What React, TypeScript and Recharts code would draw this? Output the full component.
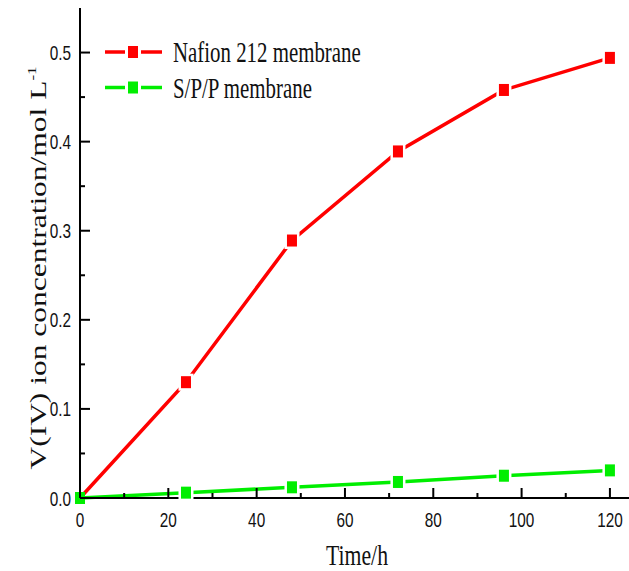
import React from 'react';
import { LineChart, Line, XAxis, YAxis, Legend } from 'recharts';

// values
const hours = [0, 24, 48, 72, 96, 120];
const nafion = [0, 0.13, 0.289, 0.389, 0.458, 0.494];
const spp = [0, 0.006, 0.012, 0.018, 0.025, 0.031];

const xTicks = [0, 10, 20, 30, 40, 50, 60, 70, 80, 90, 100, 110, 120];
const yTicks = [0, 0.05, 0.1, 0.15, 0.2, 0.25, 0.3, 0.35, 0.4, 0.45, 0.5];

const SERIES = [
  { key: 'nafion', name: 'Nafion 212 membrane', color: '#ff0000' },
  { key: 'spp', name: 'S/P/P membrane', color: '#00ee00' },
];

const data = hours.map((t, i) => ({ time: t, nafion: nafion[i], spp: spp[i] }));

// the source figure is squeezed horizontally, so text is narrowed to match
const SQ = 0.73;
const SANS = '"Liberation Sans", Arial, sans-serif';
const SERIF = '"Liberation Serif", "Times New Roman", serif';

const XTick = (props: any) => {
  const { x, y, payload } = props;
  const major = payload.value % 20 === 0;
  return (
    <g>
      <line x1={x} x2={x} y1={y} y2={y - (major ? 10 : 5)} stroke="#000" strokeWidth={2} />
      {major && (
        <text
          transform={`translate(${x},${y + 29}) scale(${SQ},1)`}
          textAnchor="middle"
          fontFamily={SANS}
          fontSize={21}
          fill="#111"
        >
          {payload.value}
        </text>
      )}
    </g>
  );
};

const YTick = (props: any) => {
  const { x, y, payload } = props;
  const major = Math.round(payload.value * 100) % 10 === 0;
  return (
    <g>
      <line x1={x} x2={x + (major ? 10 : 5)} y1={y} y2={y} stroke="#000" strokeWidth={2} />
      {major && (
        <text
          transform={`translate(${x - 9},${y + 7.5}) scale(${SQ},1)`}
          textAnchor="end"
          fontFamily={SANS}
          fontSize={21}
          fill="#111"
        >
          {payload.value.toFixed(1)}
        </text>
      )}
    </g>
  );
};

// square marker with a small white gap around it, like the Origin plot
const SquareDot = (color: string) => (props: any) => {
  const { cx, cy, index } = props;
  if (cx == null || cy == null) return null;
  return (
    <g key={index}>
      {index > 0 && <rect x={cx - 7.5} y={cy - 8.5} width={15} height={17} fill="#fff" />}
      <rect x={cx - 5} y={cy - 6} width={10} height={12} fill={color} />
    </g>
  );
};

const LegendBox = () => (
  <svg width={270} height={80}>
    {SERIES.map((s, i) => {
      const cy = 22 + i * 35.5;
      return (
        <g key={s.key}>
          <line x1={5} x2={25} y1={cy} y2={cy} stroke={s.color} strokeWidth={3.5} />
          <line x1={41} x2={62} y1={cy} y2={cy} stroke={s.color} strokeWidth={3.5} />
          <rect x={28} y={cy - 6} width={10} height={12} fill={s.color} />
          <text
            transform={`translate(73,${cy + 10}) scale(0.72,1)`}
            fontFamily={SERIF}
            fontSize={29}
            fill="#111"
          >
            {s.name}
          </text>
        </g>
      );
    })}
  </svg>
);

export default function App() {
  return (
    <div style={{ position: 'absolute', left: 0, top: 0, width: 629, height: 571, overflow: 'hidden', background: '#fff' }}>
      <LineChart width={632} height={571} data={data} margin={{ top: 8, right: 0, left: 0, bottom: 0 }}>
        <XAxis
          dataKey="time"
          type="number"
          domain={[0, 125]}
          ticks={xTicks}
          interval={0}
          tickSize={0}
          tickMargin={0}
          height={73}
          axisLine={{ stroke: '#000', strokeWidth: 2 }}
          tickLine={false}
          tick={<XTick />}
          label={{
            content: (p: any) => {
              const vb = p.viewBox;
              return (
                <text
                  transform={`translate(${vb.x + vb.width / 2 + 1},${vb.y + 67}) scale(0.75,1)`}
                  textAnchor="middle"
                  fontFamily={SERIF}
                  fontSize={29}
                  fill="#111"
                >
                  Time/h
                </text>
              );
            },
          }}
        />
        <XAxis
          xAxisId="top"
          orientation="top"
          dataKey="time"
          type="number"
          domain={[0, 125]}
          height={0}
          tick={false}
          tickLine={false}
          axisLine={{ stroke: '#000', strokeWidth: 2 }}
        />
        <YAxis
          type="number"
          domain={[0, 0.55]}
          ticks={yTicks}
          interval={0}
          width={80}
          tickSize={0}
          tickMargin={0}
          axisLine={{ stroke: '#000', strokeWidth: 2 }}
          tickLine={false}
          tick={<YTick />}
          label={{
            content: (p: any) => {
              const vb = p.viewBox;
              return (
                <text
                  transform={`translate(46,${vb.y + 260}) rotate(-90) scale(1,0.74)`}
                  textAnchor="middle"
                  fontFamily={SERIF}
                  fontSize={31.5}
                  fill="#111"
                >
                  V(IV) ion concentration/mol L
                  <tspan fontSize={17} dy={-14}>-1</tspan>
                </text>
              );
            },
          }}
        />
        <YAxis
          yAxisId="right"
          orientation="right"
          type="number"
          domain={[0, 0.55]}
          width={0}
          tick={false}
          tickLine={false}
          axisLine={{ stroke: '#000', strokeWidth: 2 }}
        />
        <Legend
          layout="vertical"
          align="center"
          verticalAlign="middle"
          wrapperStyle={{ left: 100, top: 30, width: 270, height: 80 }}
          content={<LegendBox />}
        />
        {SERIES.map((s) => (
          <Line
            key={s.key}
            dataKey={s.key}
            name={s.name}
            type="linear"
            stroke={s.color}
            strokeWidth={3.5}
            dot={SquareDot(s.color)}
            activeDot={false}
            isAnimationActive={false}
          />
        ))}
      </LineChart>
    </div>
  );
}
